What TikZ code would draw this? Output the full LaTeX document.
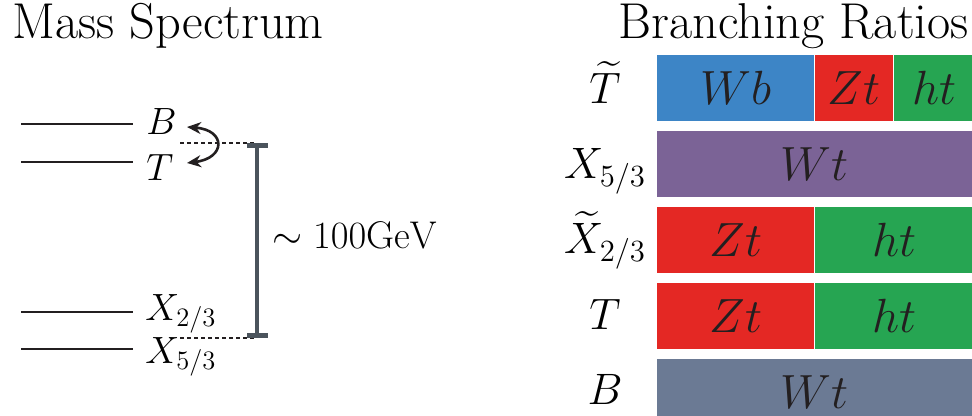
\RequirePackage{fix-cm}
\documentclass[tikz,border=0pt]{standalone}
\usepackage{amsmath}
\usepackage{tikz}
\usetikzlibrary{arrows.meta,positioning}
\definecolor{wbblue}{HTML}{3D85C6}
\definecolor{ztred}{HTML}{E42824}
\definecolor{htgreen}{HTML}{26A552}
\definecolor{wtpurple}{HTML}{7B6396}
\definecolor{wtslate}{HTML}{6B7A94}
\definecolor{gapgray}{HTML}{4B545C}
\definecolor{ink}{HTML}{231F20}

\begin{document}
\begin{tikzpicture}[x=0.5pt,y=-0.5pt,
   title/.style={inner sep=0pt,anchor=base west,font=\fontsize{25.2}{30}\selectfont},
   lvl/.style={line width=1.35pt,ink},
   lvllab/.style={inner sep=0pt,anchor=base west,font=\fontsize{19}{23}\selectfont},
   rowlab/.style={inner sep=0pt,anchor=base,font=\fontsize{22}{26}\selectfont},
   bar/.style={inner sep=0pt,minimum height=33pt,text height=16.4pt,text depth=0pt,text=ink,font=\fontsize{24}{29}\selectfont}]
  \useasboundingbox (0,0) rectangle (972,416);
  \node[title] (mass) at (12,39) {Mass Spectrum};
  \node[title] (br) at (618,39) {Branching Ratios};
  % mass levels
  \draw[lvl] (21,124) -- (133,124);
  \draw[lvl] (21,162) -- (133,162);
  \draw[lvl] (21,312) -- (133,312);
  \draw[lvl] (21,349) -- (133,349);
  \node[lvllab] (B) at (146,135) {$B$};
  \node[lvllab] (T) at (146,181) {$T$};
  \node[lvllab] (X23) at (145,320) {$X_{2/3}$};
  \node[lvllab] (X53) at (145,363) {$X_{5/3}$};
  \coordinate (swtop) at (187,127);
  \coordinate (swbot) at (187,163);
  \draw[{Stealth[length=7pt,width=6pt]}-{Stealth[length=7pt,width=6pt]},line width=1.3pt,ink] (swtop) .. controls (226,130) and (226,158) .. (swbot);
  % splitting bracket
  \coordinate (gtop) at (257,143);
  \coordinate (gbot) at (257,338);
  \draw[ink,line width=0.9pt,dash pattern=on 2pt off 1.5pt] (180,143) -- (gtop);
  \draw[ink,line width=0.9pt,dash pattern=on 2pt off 1.5pt] (180,338) -- (gbot);
  \draw[gapgray,line width=2.2pt,{Bar[width=10.5pt,line width=2.5pt]}-{Bar[width=10.5pt,line width=2.5pt]}] (gtop) -- (gbot);
  \node[lvllab,font=\fontsize{19.3}{23}\selectfont] (gev) at (272,249) {$\sim 100{\rm GeV}$};
  % branching bars
  \node[bar,fill=wbblue,minimum width=78.5pt,anchor=north west] (tWb) at (657,55) {$Wb$};
  \node[bar,fill=ztred,minimum width=39pt,right=0pt of tWb] (tZt) {$Zt$};
  \node[bar,fill=htgreen,minimum width=40pt,right=0pt of tZt] (tht) {$ht$};
  \node[bar,fill=wtpurple,minimum width=157.5pt,below=4.5pt of tWb.south west,anchor=north west] (xWt) {$Wt$};
  \node[bar,fill=ztred,minimum width=78.5pt,below=4.5pt of xWt.south west,anchor=north west] (xZt) {$Zt$};
  \node[bar,fill=htgreen,minimum width=79pt,right=0pt of xZt] (xht) {$ht$};
  \node[bar,fill=ztred,minimum width=78.5pt,below=4.5pt of xZt] (TZt) {$Zt$};
  \node[bar,fill=htgreen,minimum width=79pt,right=0pt of TZt] (Tht) {$ht$};
  \node[bar,fill=wtslate,minimum width=157.5pt,below=4.5pt of TZt.south west,anchor=north west] (BWt) {$Wt$};
  \node[rowlab] (lT) at (605,104) {$\widetilde{T}$};
  \node[rowlab] (lX53) at (605,179) {$X_{5/3}$};
  \node[rowlab] (lX23) at (605,254) {$\widetilde{X}_{2/3}$};
  \node[rowlab] (lTT) at (605,329) {$T$};
  \node[rowlab] (lB) at (605,404) {$B$};
\end{tikzpicture}
\end{document}
